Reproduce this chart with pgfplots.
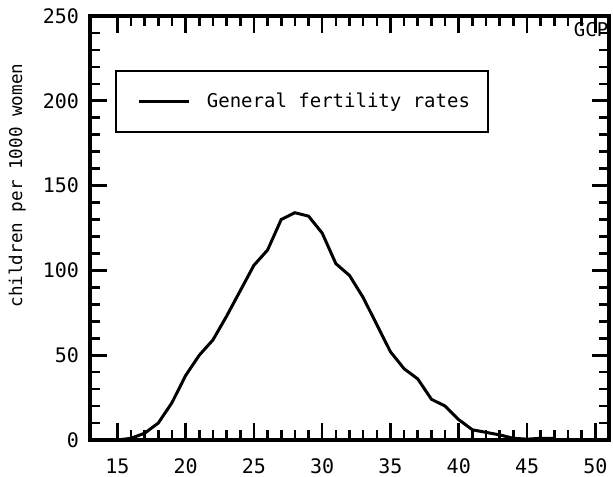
\documentclass[border=0pt]{standalone}
\usepackage{fontspec}
\setmainfont{DejaVu Sans Mono}
\usepackage{pgfplots}
\pgfplotsset{compat=1.18}

\begin{document}
\begin{tikzpicture}
\begin{axis}[
    scale only axis,
    width=259.5pt, height=212pt,
    xmin=13, xmax=51,
    ymin=0, ymax=250,
    xtick={15,20,...,50},
    ytick={0,50,...,250},
    minor x tick num=4,
    minor y tick num=4,
    tick align=inside,
    major tick length=8.5pt,
    minor tick length=5pt,
    every tick/.style={black, line width=1.3pt},
    axis line style={line width=1.8pt},
    /pgf/number format/assume math mode=true,
    ticklabel style={font=\fontsize{10}{12}\selectfont},
    xticklabel style={yshift=-6pt},
    yticklabel style={xshift=-2pt},
    ylabel={children per 1000 women},
    ylabel style={at={(axis description cs:-0.14,0.6)}, anchor=center,
                  font=\fontsize{8.8}{11}\selectfont},
    legend style={at={(0.048,0.873)}, anchor=north west, draw=black,
                  line width=1pt, inner xsep=7pt, inner ysep=9pt,
                  font=\fontsize{9.5}{11}\selectfont,
                  /tikz/column sep=6pt},
    legend image code/.code={\path (0pt,0pt); \draw[#1] (4pt,0pt) -- (29pt,0pt);},
    clip=false,
]
\addplot[black, line width=1.5pt] coordinates {
    (15,0) (16,1) (17,4) (18,10) (19,22) (20,38) (21,50) (22,59)
    (23,73) (24,88) (25,103) (26,112) (27,130) (28,134) (29,132)
    (30,122) (31,104) (32,97) (33,84) (34,68) (35,52) (36,42)
    (37,36) (38,24) (39,20) (40,12) (41,6) (42,4.5) (43,3)
    (44,1) (45,0.5) (46,1) (47,1)
};
\addlegendentry{General fertility rates}
\node[anchor=west, inner sep=0pt, font=\fontsize{9.5}{11}\selectfont]
    at (axis cs:48.4,242) {GCP};
\end{axis}
\pgfresetboundingbox
\path ([xshift=-45pt,yshift=-18pt]current axis.south west)
    rectangle ([xshift=2pt,yshift=8pt]current axis.north east);
\end{tikzpicture}
\end{document}
